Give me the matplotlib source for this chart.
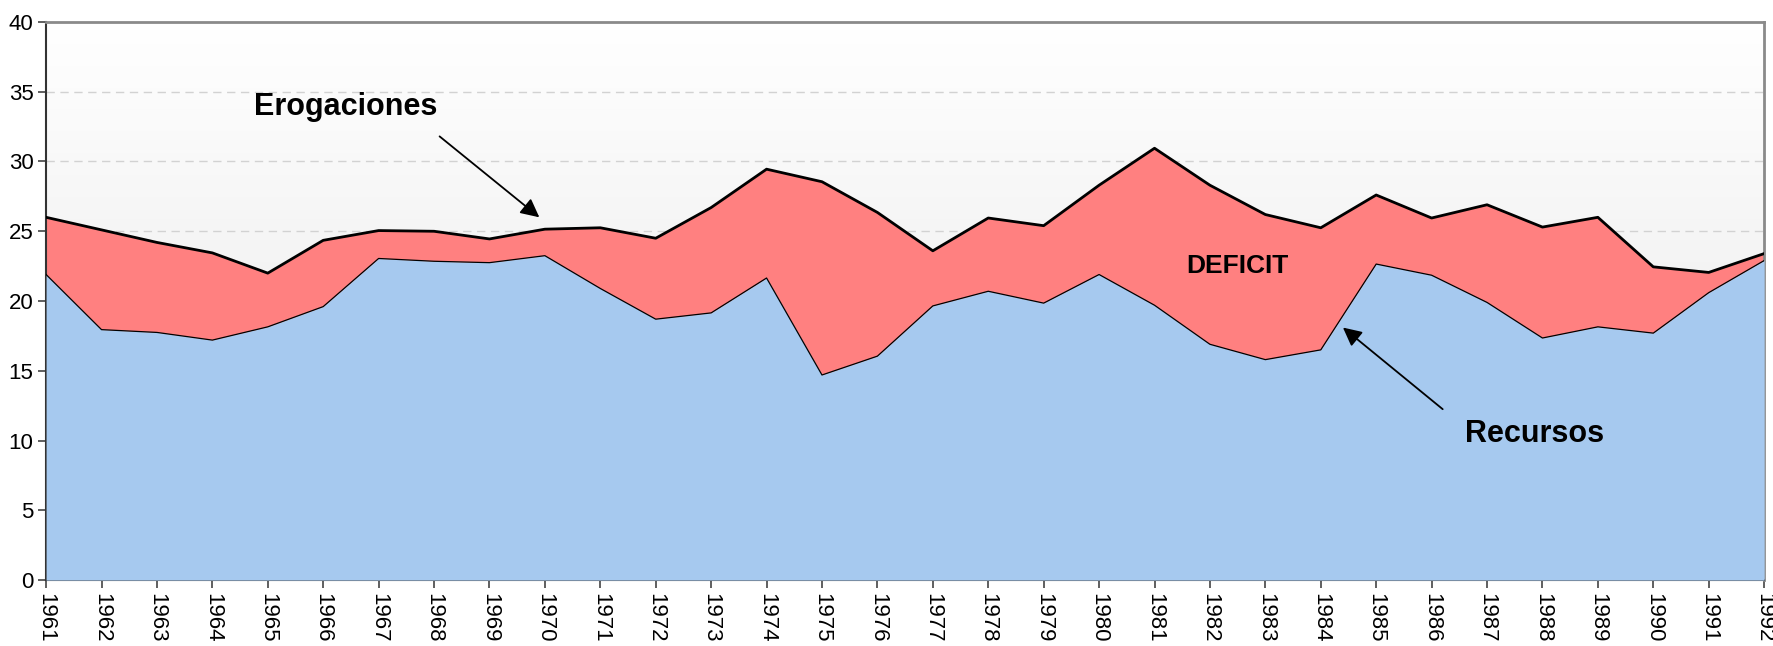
import matplotlib
matplotlib.use("Agg")
import matplotlib.pyplot as plt
import numpy as np


# =========================
# Datos
# =========================
years = list(range(1961, 1993))

erogaciones = [
    26.0, 25.1, 24.2, 23.45, 22.0, 24.35, 25.05, 25.0, 24.45, 25.15,
    25.25, 24.5, 26.7, 29.45, 28.55, 26.35, 23.6, 25.95, 25.4, 28.3,
    30.95, 28.3, 26.2, 25.25, 27.6, 25.95, 26.9, 25.3, 26.0, 22.45,
    22.05, 23.4,
]

recursos = [
    21.9, 17.95, 17.75, 17.2, 18.15, 19.6, 23.05, 22.85, 22.75, 23.25,
    20.9, 18.7, 19.15, 21.65, 14.7, 16.05, 19.65, 20.7, 19.85, 21.9,
    19.7, 16.9, 15.8, 16.5, 22.65, 21.85, 19.9, 17.35, 18.15, 17.7,
    20.6, 22.9,
]

y_ticks = [0, 5, 10, 15, 20, 25, 30, 35, 40]

plt.rcParams["font.family"] = ["Liberation Sans", "DejaVu Sans"]

fig = plt.figure(figsize=(17.73, 6.46), dpi=100)
ax = fig.add_axes([0.026, 0.102, 0.969, 0.864])

x = np.array(years)
ero = np.array(erogaciones)
rec = np.array(recursos)

# Fondo degradado (blanco arriba -> gris claro abajo)
grad = np.linspace(1.0, 0.90, 256).reshape(-1, 1)
ax.imshow(
    np.dstack([grad, grad, grad]),
    extent=[x[0], x[-1], 0, 40],
    origin="upper",
    aspect="auto",
    zorder=0,
)

# Líneas de grilla punteadas
for yv in y_ticks[1:-1]:
    ax.axhline(yv, color="#d2d2d2", lw=1.0, ls=(0, (6, 4)), zorder=1)

# Áreas
ax.fill_between(x, rec, ero, color="#FF8080", lw=0, zorder=2)
ax.fill_between(x, 0, rec, color="#A6C9EF", lw=0, zorder=3)
ax.plot(x, rec, color="black", lw=0.9, zorder=4)
ax.plot(x, ero, color="black", lw=2.0, zorder=5)

# Ejes
ax.set_xlim(x[0], x[-1])
ax.set_ylim(0, 40)
ax.set_xticks(years)
ax.set_xticklabels([str(v) for v in years], rotation=270, ha="center", va="top")
ax.set_yticks(y_ticks)
ax.tick_params(axis="both", labelsize=16, length=6, width=1.2, color="#444444", pad=3)

for side in ["top", "right"]:
    ax.spines[side].set_color("#8a8a8a")
    ax.spines[side].set_linewidth(2.0)
for side in ["left", "bottom"]:
    ax.spines[side].set_color("#333333")
    ax.spines[side].set_linewidth(1.5)

# Anotaciones
ax.text(1966.4, 33.9, "Erogaciones", fontsize=22, fontweight="bold",
        ha="center", va="center", zorder=6)
ax.annotate("", xy=(1969.9, 26.0), xytext=(1968.1, 31.8),
            arrowprops=dict(arrowstyle="-|>", color="black", lw=1.3,
                            mutation_scale=28, shrinkA=0, shrinkB=0),
            zorder=6)

ax.text(1982.5, 22.5, "DEFICIT", fontsize=19, fontweight="bold",
        ha="center", va="center", zorder=6)

ax.text(1987.85, 10.5, "Recursos", fontsize=22, fontweight="bold",
        ha="center", va="center", zorder=6)
ax.annotate("", xy=(1984.4, 18.1), xytext=(1986.2, 12.25),
            arrowprops=dict(arrowstyle="-|>", color="black", lw=1.3,
                            mutation_scale=28, shrinkA=0, shrinkB=0),
            zorder=6)

fig.savefig("out.png", dpi=100)
plt.close(fig)
